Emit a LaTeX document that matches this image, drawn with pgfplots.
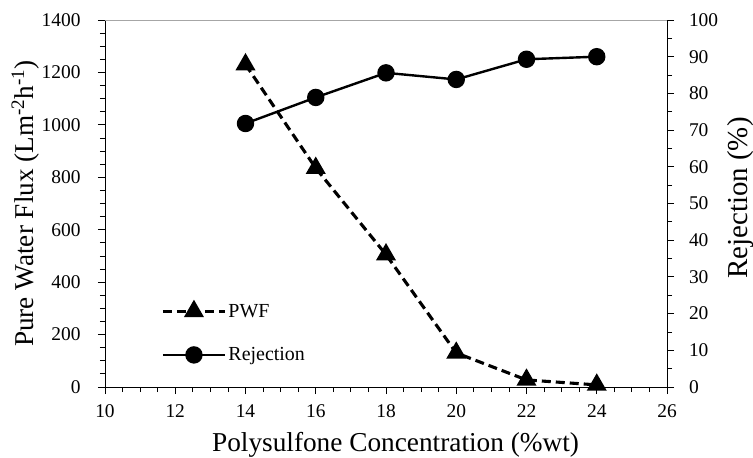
\documentclass[border=0pt]{standalone}
\usepackage{fontspec}
\setmainfont{Liberation Serif}
\usepackage{pgfplots}
\pgfplotsset{compat=1.18}
\begin{document}
\begin{tikzpicture}
\pgfplotsset{
  every axis/.append style={
    scale only axis, width=562bp, height=367bp,
    xmin=10, xmax=26, clip=false,
    tick align=outside,
    major tick length=7bp, minor tick length=5bp,
    every tick/.style={black, line width=0.8bp},
    axis line style={black, line width=0.8bp},
    tick label style={font=\fontsize{19.5}{22}\selectfont},
    /pgf/number format/assume math mode=true,
    /pgf/number format/1000 sep={},
  },
  legend image code/.code={\draw[mark repeat=2,mark phase=2,#1] plot coordinates {(0bp,0bp) (31bp,0bp) (62bp,0bp)};},
}
\begin{axis}[
  axis x line*=bottom, axis y line*=left,
  ymin=0, ymax=1400,
  xtick={10,12,...,26}, minor x tick num=3,
  ytick={0,200,...,1400}, minor y tick num=3,
  xticklabel style={yshift=-7bp},
  yticklabel style={xshift=-14bp},
  xlabel={Polysulfone Concentration (\%wt)},
  ylabel={Pure Water Flux (Lm\textsuperscript{-2}h\textsuperscript{-1})},
  xlabel style={at={(axis description cs:0.517,-0.177)}, anchor=base, font=\fontsize{27.4}{31}\selectfont},
  ylabel style={at={(axis description cs:-0.128,0.5)}, anchor=base, font=\fontsize{27.3}{31}\selectfont},
]
\draw[gray!70, line width=0.8bp] (rel axis cs:0,1) -- (rel axis cs:1,1);
\addplot[black, line width=3.1bp, dash pattern=on 9bp off 5bp, mark=triangle*, mark size=8.5bp, mark options={solid}]
  coordinates {(14,1230) (16,835) (18,505) (20,130) (22,27) (24,8)};
\end{axis}
\begin{axis}[
  axis x line=none, axis y line*=right,
  ymin=0, ymax=100,
  ytick={0,10,...,100}, minor y tick num=1,
  yticklabel style={xshift=11.5bp},
  ylabel={Rejection (\%)},
  ylabel style={at={(axis description cs:1.144,0.515)}, anchor=base, rotate=0, font=\fontsize{29}{33}\selectfont},
  legend style={draw=none, fill=none, at={(rel axis cs:0.1,0.232)}, anchor=north west,
    font=\fontsize{20}{23}\selectfont, row sep=25bp, inner sep=0pt},
  legend cell align=left,
]
\addlegendimage{black, line width=3.1bp, dash pattern=on 9bp off 5bp, mark=triangle*, mark size=8.5bp, mark options={solid}}
\addlegendentry{PWF}
\addplot[black, line width=2.4bp, mark=*, mark size=7.5bp]
  coordinates {(14,71.8) (16,78.9) (18,85.6) (20,83.8) (22,89.3) (24,90.0)};
\addlegendentry{Rejection}
\end{axis}
\pgfresetboundingbox
\path[use as bounding box] (-105bp,-71bp) rectangle (648bp,387bp);
\end{tikzpicture}
\end{document}
